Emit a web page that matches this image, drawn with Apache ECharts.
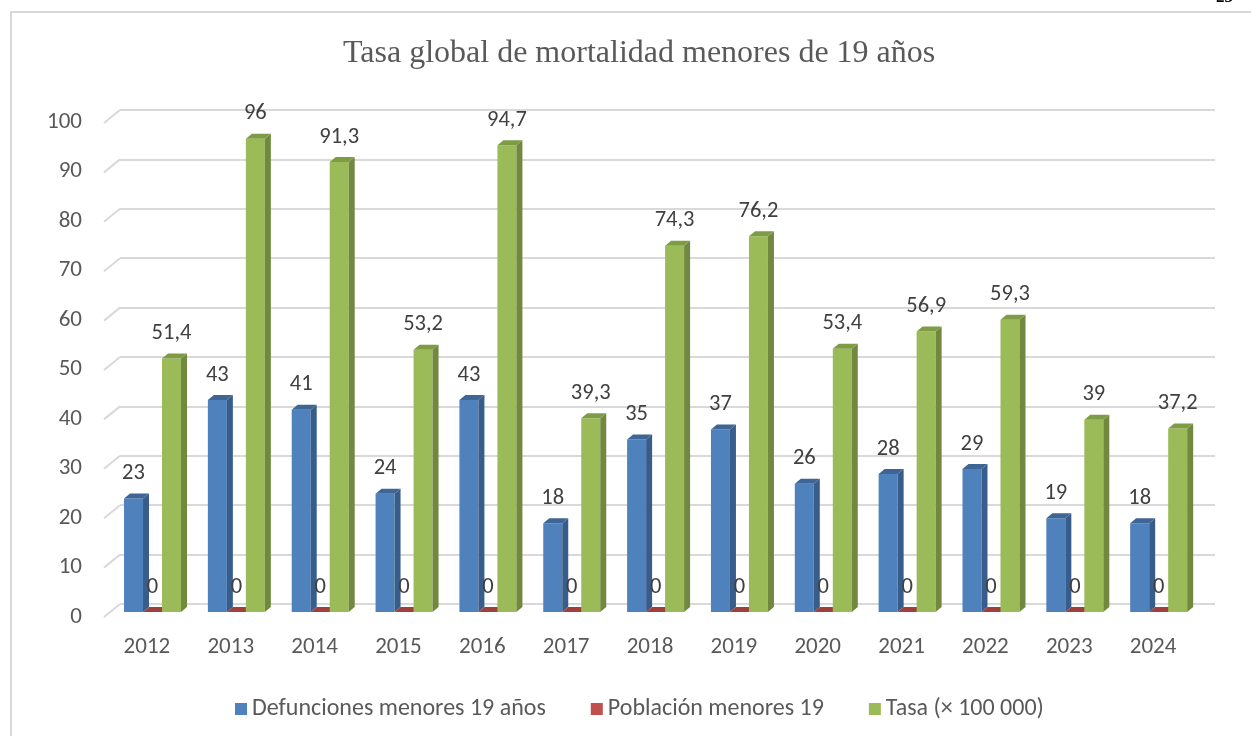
<!DOCTYPE html>
<html>
<head>
<meta charset="utf-8">
<script src="https://cdn.jsdelivr.net/npm/echarts@6/dist/echarts.min.js"></script>
<style>
  html, body { margin: 0; padding: 0; background: #fff; }
  #chart { width: 1251px; height: 736px; }
</style>
</head>
<body>
<div id="chart"></div>
<script>
// datos
const years = ['2012', '2013', '2014', '2015', '2016', '2017', '2018', '2019', '2020', '2021', '2022', '2023', '2024'];
const defunciones = [23, 43, 41, 24, 43, 18, 35, 37, 26, 28, 29, 19, 18];
const poblacion = [0, 0, 0, 0, 0, 0, 0, 0, 0, 0, 0, 0, 0];
const tasa = [51.4, 96, 91.3, 53.2, 94.7, 39.3, 74.3, 76.2, 53.4, 56.9, 59.3, 39, 37.2];
const yTicks = [0, 10, 20, 30, 40, 50, 60, 70, 80, 90, 100];

const seriesNames = ['Defunciones menores 19 años', 'Población menores 19', 'Tasa (× 100 000)'];
const seriesData = [defunciones, poblacion, tasa];
// front / lado / tapa
const palette = [
  ['#4f81bd', '#385d8a', '#3e6594'],
  ['#c0504d', '#8c3836', '#a0403d'],
  ['#9bbb59', '#71893f', '#7e9c45']
];

const font = 'Carlito, Calibri, Lato, sans-serif';
const barW = 19;
const dx = 6, dy = 5;   // profundidad 3d

function make3dBar(idx) {
  return function (params, api) {
    const cat = api.value(0);
    const val = api.value(1);
    const top = api.coord([cat, val]);
    const base = api.coord([cat, 0]);
    const left = top[0] + 5.6 + (idx - 1) * barW - barW / 2;
    const right = left + barW;
    const c = palette[idx];
    const label = String(val).replace('.', ',');
    return {
      type: 'group',
      children: [
        { type: 'rect', shape: { x: left, y: top[1], width: barW, height: base[1] - top[1] }, style: { fill: c[0] } },
        { type: 'polygon', shape: { points: [[right, top[1]], [right + dx, top[1] - dy], [right + dx, base[1] - dy], [right, base[1]]] }, style: { fill: c[1] } },
        { type: 'polygon', shape: { points: [[left, top[1]], [left + dx, top[1] - dy], [right + dx, top[1] - dy], [right, top[1]]] }, style: { fill: c[2] } },
        { type: 'text', style: { text: label, x: left + barW / 2, y: top[1] - 25, align: 'center', verticalAlign: 'middle', fill: '#404040', font: '22.5px ' + font } }
      ]
    };
  };
}

const chart = echarts.init(document.getElementById('chart'));

const barSeries = seriesNames.map((name, i) => ({
  name: name,
  type: 'custom',
  xAxisIndex: 0,
  yAxisIndex: 0,
  itemStyle: { color: palette[i][0] },
  renderItem: make3dBar(i),
  encode: { x: 0, y: 1 },
  data: seriesData[i].map((v, k) => [k, v]),
  z: 5
}));

const option = {
  animation: false,
  title: {
    text: 'Tasa global de mortalidad menores de 19 años',
    left: 343,
    top: 38,
    padding: 0,
    textStyle: { fontFamily: 'Liberation Serif', fontSize: 32, fontWeight: 'normal', color: '#595959' }
  },
  graphic: [
    { type: 'rect', shape: { x: 11, y: 12, width: 1400, height: 900 }, style: { fill: 'none', stroke: '#d9d9d9', lineWidth: 2 }, z: -1 },
    { type: 'text', left: 1216, top: -11, style: { text: '23', fill: '#000', font: 'bold 17px Liberation Serif' } }
  ],
  legend: {
    data: seriesNames,
    left: 230,
    top: 692,
    icon: 'rect',
    itemWidth: 12,
    itemHeight: 12,
    itemGap: 45,
    textStyle: { color: '#595959', fontSize: 24, fontFamily: font }
  },
  grid: [
    { left: 105, right: 56, top: 119, bottom: 124 },   // barras
    { left: 120, right: 36, top: 110, bottom: 132 },   // pared de fondo
    { left: 104, right: 36, top: 122, bottom: 119 }    // etiquetas eje y
  ],
  xAxis: [
    {
      gridIndex: 0, type: 'category', data: years,
      axisLine: { show: false }, axisTick: { show: false },
      axisLabel: { color: '#595959', fontSize: 23, fontFamily: font, margin: 24 }
    },
    { gridIndex: 1, type: 'value', min: 0, max: 1, show: false },
    { gridIndex: 2, type: 'value', min: 0, max: 1, show: false }
  ],
  yAxis: [
    { gridIndex: 0, type: 'value', min: 0, max: 100, interval: 10, show: false },
    {
      gridIndex: 1, type: 'value', min: 0, max: 100, interval: 10,
      axisLabel: { show: false }, axisLine: { show: false }, axisTick: { show: false },
      splitLine: { lineStyle: { color: '#d9d9d9', width: 2 } }
    },
    {
      gridIndex: 2, type: 'value', min: 0, max: 100, interval: 10,
      axisLine: { show: false }, axisTick: { show: false }, splitLine: { show: false },
      axisLabel: { color: '#595959', fontSize: 23, fontFamily: font, margin: 22 }
    }
  ],
  series: [
    {
      type: 'custom',
      name: 'diag',
      xAxisIndex: 1,
      yAxisIndex: 1,
      silent: true,
      data: yTicks.map(v => [0, v]),
      encode: { x: 0, y: 1 },
      renderItem: function (params, api) {
        const p = api.coord([0, api.value(1)]);
        return {
          type: 'line',
          shape: { x1: p[0], y1: p[1], x2: p[0] - 16, y2: p[1] + 13 },
          style: { stroke: '#d9d9d9', lineWidth: 2 }
        };
      },
      z: 1
    }
  ].concat(barSeries)
};

chart.setOption(option);
</script>
</body>
</html>
